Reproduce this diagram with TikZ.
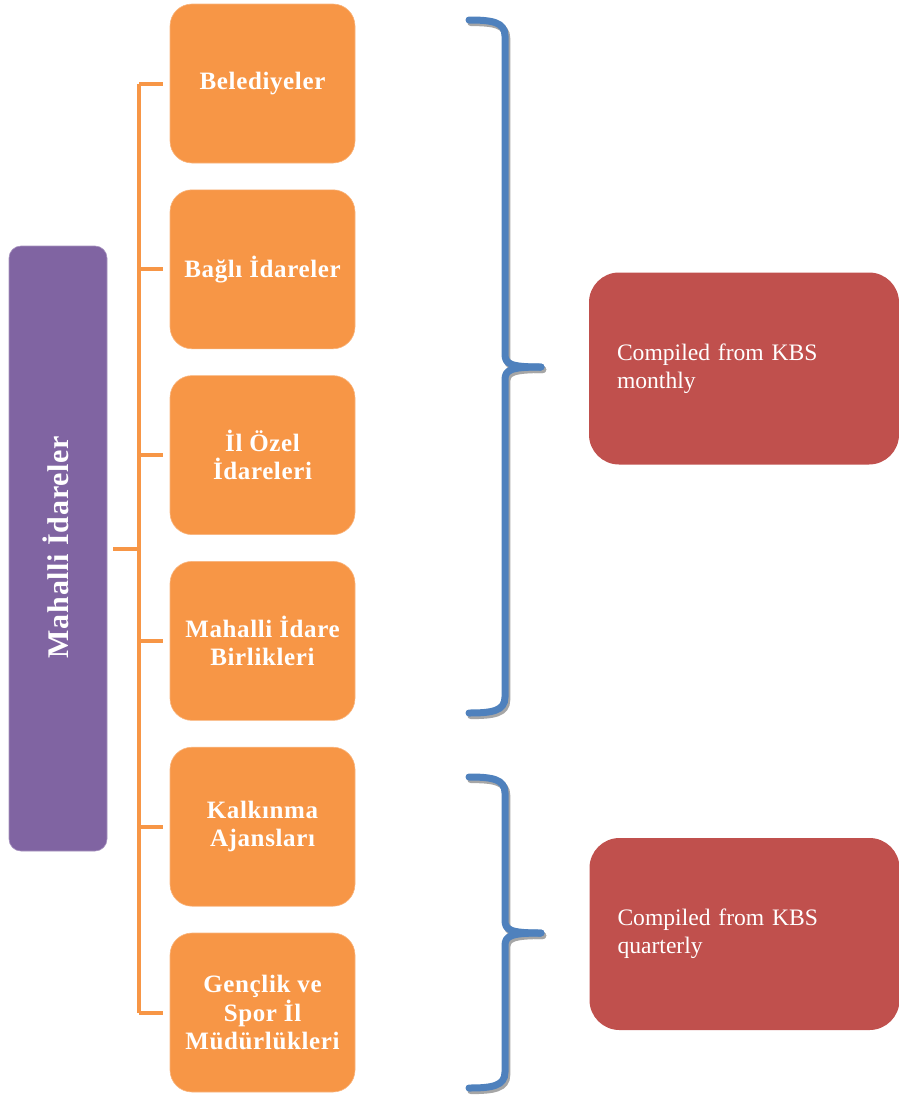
\documentclass[tikz,border=0pt]{standalone}
\usepackage{fontspec}
\setmainfont{Liberation Serif}
\newfontfamily\headfont{Liberation Serif}[LetterSpace=2.5]
\definecolor{orgfill}{HTML}{F79646}
\definecolor{purfill}{HTML}{8064A2}
\definecolor{redfill}{HTML}{C0504D}
\definecolor{bracecol}{HTML}{4F81BD}
\definecolor{shadecol}{HTML}{A6A6A6}
\tikzset{
  unitbox/.style={rectangle, rounded corners=22pt, fill=orgfill, draw=orgfill!70!white, line width=0.6pt,
    minimum width=185pt, minimum height=159pt, text=white, align=center,
    font=\headfont\bfseries\fontsize{25}{28.5}\selectfont},
  rootbox/.style={rectangle, rounded corners=12pt, fill=purfill, draw=purfill!70!white, line width=0.6pt,
    minimum width=98pt, minimum height=605pt},
  notebox/.style={rectangle, rounded corners=30pt, fill=redfill, minimum width=310pt, minimum height=192pt,
    text width=254pt, inner xsep=28pt, align=left, text=white, font=\fontsize{23.6}{28}\selectfont},
  link/.style={draw=orgfill, line width=4pt},
  bracestroke/.style={draw=bracecol, line width=7pt, line cap=round},
  braceshade/.style={draw=shadecol, line width=7pt, line cap=round},
}
\begin{document}
\begin{tikzpicture}[x=1pt,y=1pt]
\useasboundingbox (0,0) rectangle (899,-1100);

% root
\node[rootbox] (root) at (58,-548.5) {};
\node[rotate=90, text=white, font=\headfont\bfseries\fontsize{30}{34}\selectfont] (roottext) at (56,-547) {Mahalli İdareler};

% member units
\node[unitbox] (b1) at (262.5,-83.5) {Belediyeler};
\node[unitbox] (b2) at (262.5,-269.3) {Bağlı İdareler};
\node[unitbox] (b3) at (262.5,-455.1) {İl Özel\\İdareleri};
\node[unitbox] (b4) at (262.5,-640.9) {Mahalli İdare\\Birlikleri};
\node[unitbox] (b5) at (262.5,-826.7) {Kalkınma\\Ajansları};
\node[unitbox] (b6) at (262.5,-1012.5) {Gençlik ve\\Spor İl\\Müdürlükleri};

% connector tree
\coordinate (ttop) at (139,-83.5);
\coordinate (tbot) at (139,-1012.5);
\draw[link] (ttop) -- (tbot);
\draw[link, shorten <=6pt] (root.east) -- (root.east -| ttop);
\foreach \b in {b1,b2,b3,b4,b5,b6}
  \draw[link, shorten >=7pt] (\b.west -| ttop) -- (\b.west);

% notes
\node[notebox] (n1) at (744,-368.5) {Compiled from KBS\\monthly};
\node[notebox] (n2) at (744.5,-934) {Compiled from KBS\\quarterly};

% braces: shadow first, then the stroke
\foreach \st/\dx/\dy in {braceshade/1.8/-2.6, bracestroke/0/0}{
  \begin{scope}[shift={(\dx,\dy)}]
    \draw[\st] (469,-20) .. controls (492,-20) and (505,-22) .. (505,-36) -- (505,-354)
               .. controls (505,-364) and (510,-367) .. (541,-367);
    \draw[\st] (469,-713) .. controls (492,-713) and (505,-711) .. (505,-697) -- (505,-380)
               .. controls (505,-370) and (510,-367) .. (541,-367);
    \draw[\st] (469,-777) .. controls (492,-777) and (505,-779) .. (505,-793) -- (505,-920)
               .. controls (505,-930) and (510,-933) .. (541,-933);
    \draw[\st] (469,-1088) .. controls (492,-1088) and (505,-1086) .. (505,-1072) -- (505,-946)
               .. controls (505,-936) and (510,-933) .. (541,-933);
  \end{scope}
}
\end{tikzpicture}
\end{document}
